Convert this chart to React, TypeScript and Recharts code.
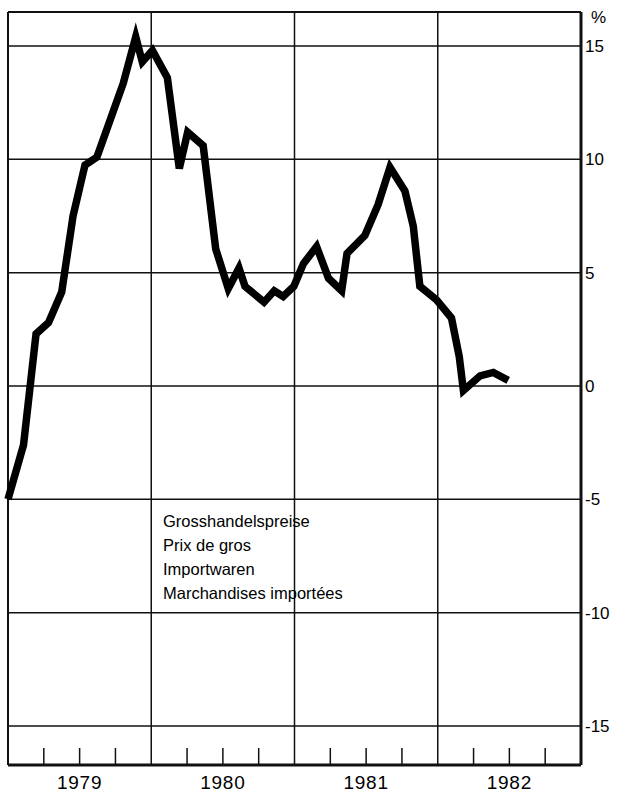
import { LineChart, Line, XAxis, YAxis, CartesianGrid, ReferenceLine } from 'recharts';

// Grosshandelspreise, Importwaren: Veränderung gegenüber Vorjahr in %
const years = ['1979', '1980', '1981', '1982'];
const yearStarts = [12, 24, 36];
const quarterTicks = [3, 6, 9, 15, 18, 21, 27, 30, 33, 39, 42, 45];
const yTicks = [-15, -10, -5, 0, 5, 10, 15];

// months since Jan 1979 and the matching % values
const months = [
  0, 1.3, 2.35, 3.4, 4.5, 5.45, 6.45, 7.45, 9.65, 10.7, 11.25, 12.1, 13.35, 14.35,
  15.05, 16.35, 17.4, 18.45, 19.35, 19.85, 21.45, 22.3, 23.05, 23.95, 24.75, 25.85,
  26.85, 27.95, 28.4, 29.9, 31.0, 32.0, 33.25, 33.95, 34.5, 35.9, 37.15, 37.8, 38.15,
  39.55, 40.65, 41.9,
];
const values = [
  -5.0, -2.6, 2.3, 2.8, 4.15, 7.5, 9.75, 10.1, 13.35, 15.4, 14.3, 14.8, 13.6, 9.6,
  11.2, 10.6, 6.05, 4.3, 5.2, 4.4, 3.7, 4.2, 3.95, 4.4, 5.4, 6.15,
  4.75, 4.2, 5.85, 6.65, 8.0, 9.65, 8.6, 7.05, 4.4, 3.8, 3.0, 1.3, -0.2,
  0.45, 0.6, 0.25,
];

const legendLines = ['Grosshandelspreise', 'Prix de gros', 'Importwaren', 'Marchandises importées'];

const data = months.map((m, i) => ({ m, v: values[i] }));

const Y_MIN = -16.72;
const Y_MAX = 16.5;
const INK = '#111';
const FONT = '"Liberation Sans", Arial, Helvetica, sans-serif';

const QuarterTick = (props: any) => {
  const { x, y, payload } = props;
  const v = payload.value;
  const isMid = v % 12 === 6;
  return (
    <g>
      <line x1={x} x2={x} y1={y} y2={y - 17} stroke={INK} strokeWidth={1.5} />
      {isMid && (
        <text
          x={x}
          y={y + 24}
          textAnchor="middle"
          fontSize={19}
          fontFamily={FONT}
          letterSpacing={0.8}
          fill="#000"
        >
          {years[Math.floor(v / 12)]}
        </text>
      )}
    </g>
  );
};

export default function App() {
  return (
    <div style={{ position: 'absolute', left: 0, top: 0, width: 628, height: 801, background: '#fff', fontFamily: FONT }}>
      <LineChart width={628} height={801} data={data} margin={{ top: 12, right: 0, left: 8, bottom: 0 }}>
        <CartesianGrid vertical={false} stroke={INK} strokeWidth={1.5} />
        <XAxis
          dataKey="m"
          type="number"
          domain={[0, 48]}
          ticks={quarterTicks}
          interval={0}
          tickLine={false}
          tickSize={0}
          tickMargin={0}
          height={36}
          axisLine={{ stroke: INK, strokeWidth: 3 }}
          tick={<QuarterTick />}
        />
        <YAxis
          orientation="right"
          type="number"
          domain={[Y_MIN, Y_MAX]}
          allowDataOverflow
          ticks={yTicks}
          interval={0}
          width={47}
          tickLine={false}
          tickSize={0}
          tickMargin={4}
          axisLine={{ stroke: INK, strokeWidth: 3 }}
          tick={{ fill: '#000', fontSize: 17, fontFamily: FONT }}
        />
        <ReferenceLine y={Y_MAX} stroke={INK} strokeWidth={2} />
        <ReferenceLine x={0} stroke={INK} strokeWidth={2} />
        {yearStarts.map((s) => (
          <ReferenceLine key={s} x={s} stroke={INK} strokeWidth={1.5} />
        ))}
        <Line
          type="linear"
          dataKey="v"
          stroke="#000"
          strokeWidth={7.5}
          strokeLinejoin="miter"
          dot={false}
          isAnimationActive={false}
        />
      </LineChart>
      <div style={{ position: 'absolute', left: 591, top: 9, fontSize: 17, lineHeight: '17px', color: '#000' }}>%</div>
      <div style={{ position: 'absolute', left: 163, top: 509, fontSize: 16.5, lineHeight: '24px', color: '#000' }}>
        {legendLines.map((t) => (
          <div key={t}>{t}</div>
        ))}
      </div>
    </div>
  );
}
